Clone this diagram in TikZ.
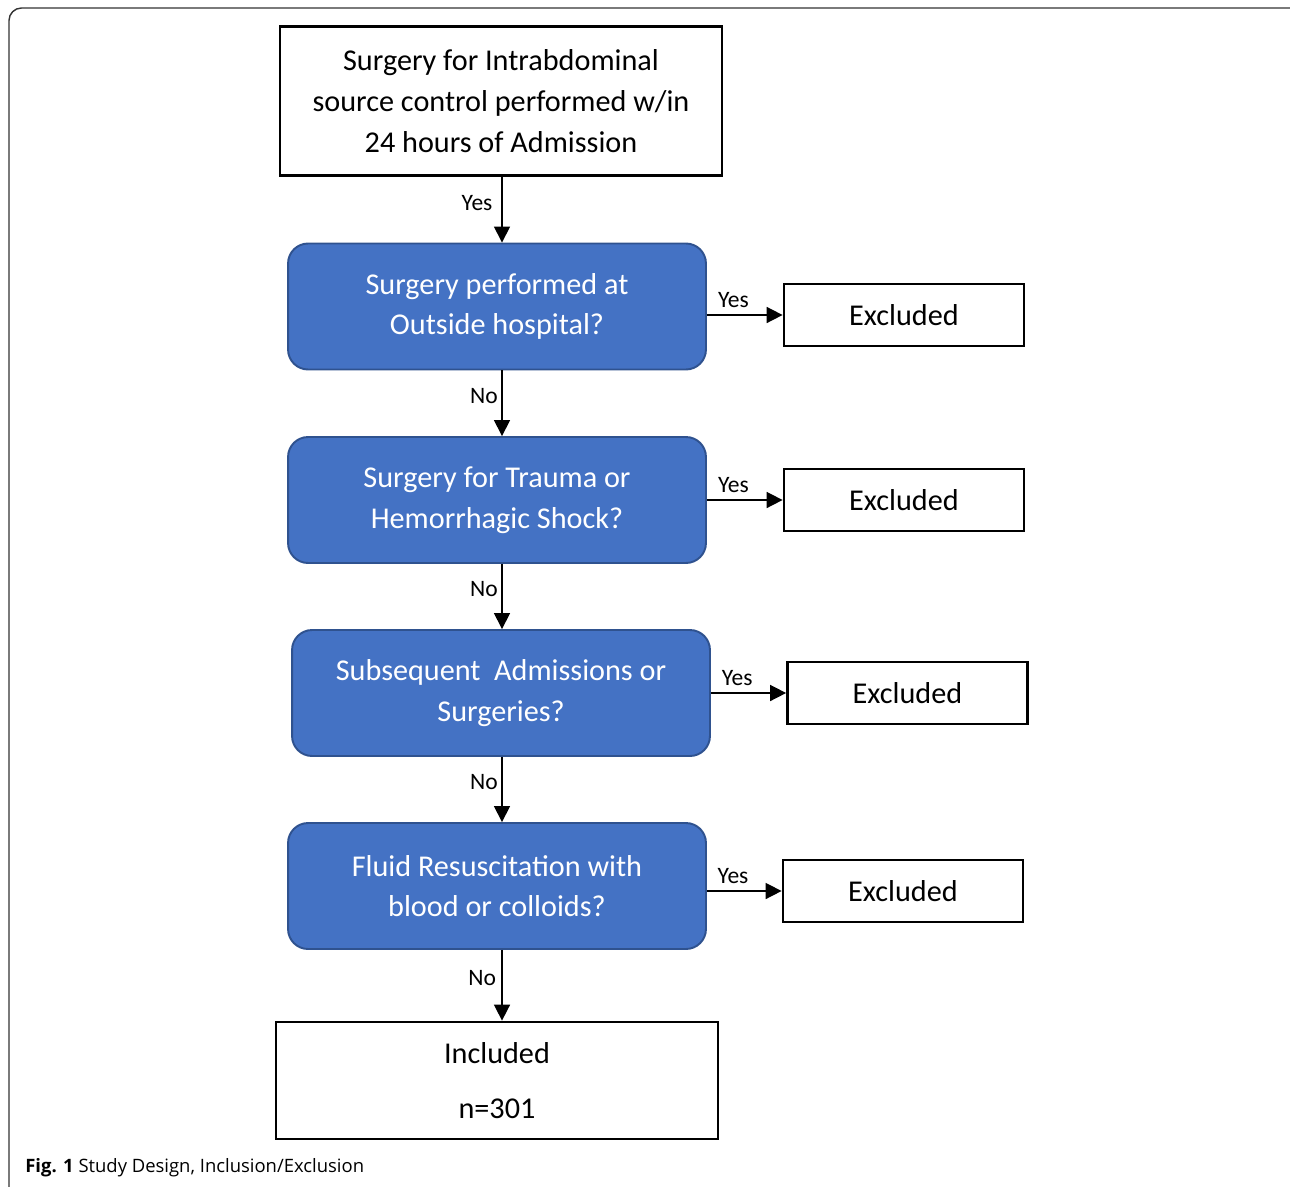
\documentclass[tikz,border=0pt]{standalone}
\usepackage{fontspec}
\setmainfont{Carlito}
\newfontfamily\capfont{Open Sans}
\usetikzlibrary{arrows.meta}
\definecolor{askblue}{HTML}{4472C4}
\definecolor{askedge}{HTML}{2F528F}
\tikzset{
	plainbox/.style={draw,line width=1.6pt,minimum width=8.84cm,align=center,font=\fontsize{17.2}{23.2}\selectfont},
	askbox/.style={draw=askedge,fill=askblue,line width=1.1pt,rounded corners=0.4cm,text=white,minimum width=8.36cm,minimum height=2.52cm,align=center,font=\fontsize{17.2}{23.2}\selectfont},
	outbox/.style={draw,line width=1.6pt,minimum width=4.8cm,minimum height=1.24cm,font=\fontsize{17.2}{23.2}\selectfont},
	flow/.style={line width=0.9pt,-{Triangle[length=0.32cm,width=0.32cm]}},
	tag/.style={font=\fontsize{13.4}{15}\selectfont,inner sep=2pt}
}
\begin{document}
\begin{tikzpicture}[x=0.02cm,y=-0.02cm]
	\useasboundingbox (0,0) rectangle (1290,1186);
	% outer frame
	\draw[line width=0.8pt,black!80,rounded corners=0.25cm] (9,8) rectangle (1310,1200);
	% main column
	\node[plainbox,minimum height=2.98cm] (start) at (501,101) {Surgery for Intrabdominal\\source control performed w/in\\24 hours of Admission};
	\node[askbox] (outside) at (497,306.5) {Surgery performed at\\Outside hospital?};
	\node[askbox] (trauma) at (497,500) {Surgery for Trauma or\\Hemorrhagic Shock?};
	\node[askbox] (subseq) at (501,693) {Subsequent\ \ Admissions or\\Surgeries?};
	\node[askbox] (fluid) at (497,886) {Fluid Resuscitation with\\blood or colloids?};
	\node[plainbox,minimum height=2.34cm,font=\fontsize{17.2}{31}\selectfont] (incl) at (497,1080.5) {Included\\n=301};
	% excluded column
	\node[outbox] (ex1) at (904,315) {Excluded};
	\node[outbox] (ex2) at (904,500) {Excluded};
	\node[outbox] (ex3) at (907.5,693) {Excluded};
	\node[outbox] (ex4) at (903,891) {Excluded};
	% connectors
	\draw[flow] (start.south -| 502,0) -- (outside.north -| 502,0) node[tag,midway,left,xshift=-3pt,yshift=4pt] {Yes};
	\draw[flow] (outside.south -| 502,0) -- (trauma.north -| 502,0) node[tag,midway,left,yshift=4pt] {No};
	\draw[flow] (trauma.south -| 502,0) -- (subseq.north -| 502,0) node[tag,midway,left,yshift=4pt] {No};
	\draw[flow] (subseq.south -| 502,0) -- (fluid.north -| 502,0) node[tag,midway,left,yshift=4pt] {No};
	\draw[flow] (fluid.south -| 502,0) -- (incl.north -| 502,0) node[tag,midway,left,xshift=-1pt,yshift=4pt] {No};
	\foreach \q/\x in {outside/ex1,trauma/ex2,subseq/ex3,fluid/ex4}
		\draw[flow] (\q.east |- \x.west) -- (\x.west) node[tag,pos=0.35,above,yshift=2pt] {Yes};
	% caption
	\node[anchor=west,inner sep=0pt,font=\capfont\fontsize{10.5}{13}\selectfont] (cap) at (25,1168) {\textbf{Fig. 1} Study Design, Inclusion/Exclusion};
\end{tikzpicture}
\end{document}
